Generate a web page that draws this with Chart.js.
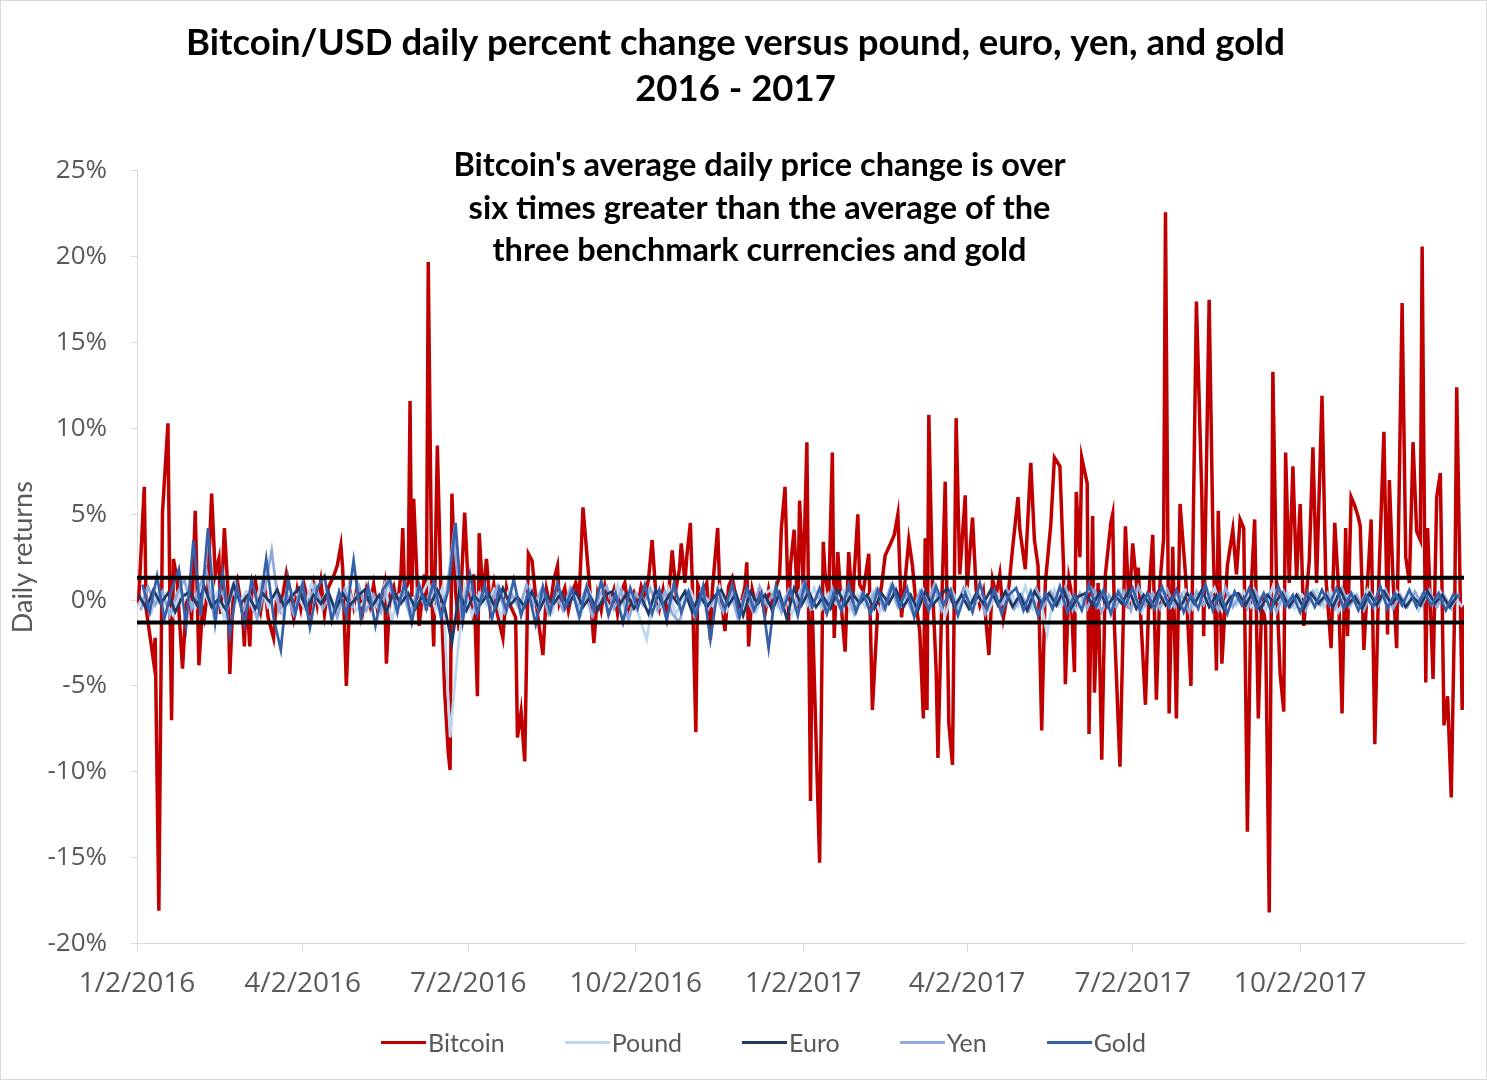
<!DOCTYPE html>
<html>
<head>
<meta charset="utf-8">
<title>Bitcoin vs pound, euro, yen and gold</title>
<script src="https://cdn.jsdelivr.net/npm/chart.js@4.4.1/dist/chart.umd.min.js"></script>
<style>
  html, body { margin: 0; padding: 0; background: #fff; }
  .wrap { position: relative; width: 1487px; height: 1080px; box-sizing: border-box; border: 1px solid #d9d9d9; }
  #myChart { position: absolute; left: 0; top: 0; }
  .chart-legend {
    position: absolute; left: 0; top: 1026px; width: 1485px; padding-left: 40px; box-sizing: border-box;
    display: flex; justify-content: center; gap: 60px;
    font-family: Lato, sans-serif; font-size: 25px; color: #595959;
  }
  .legend-item { display: flex; align-items: center; }
  .legend-color { width: 45px; height: 3px; margin-right: 2px; }
</style>
</head>
<body>
<div class="wrap">
  <canvas id="myChart" width="1485" height="1078"></canvas>
  <div class="chart-legend" id="chart-legend"></div>
</div>
<script>
// x axis: days since 1/2/2016
const tickDays = [0, 91, 182, 274, 366, 456, 547, 639];
const tickLabels = ['1/2/2016', '4/2/2016', '7/2/2016', '10/2/2016', '1/2/2017', '4/2/2017', '7/2/2017', '10/2/2017'];
const lastDay = 729;

// Bitcoin daily returns in %, [day, value]
const bitcoin = [
  [0,-0.3],[1,0.2],[4,6.6],[5,-0.5],[9,-3.5],[10,-2.2],[12,-18.1],[14,5.1],[17,10.3],[18,0.6],[19,-7.0],[20,2.4],
  [22,1.2],[25,-4.0],[27,-0.3],[29,0.6],[30,-1.2],[32,5.2],[34,-3.8],[36,-0.5],[37,-1.0],[39,0.8],[41,6.2],[43,1.5],
  [45,2.4],[46,-0.8],[48,4.2],[50,0.5],[51,-4.3],[53,0.6],[55,1.2],[58,-0.8],[59,-2.7],[60,0.5],[62,-2.7],[63,0.4],
  [65,1.1],[68,-0.6],[70,0.9],[72,-1.0],[75,-2.2],[77,0.5],[79,-0.4],[82,1.5],[84,0.2],[86,-1.0],[88,0.6],[90,-0.5],
  [92,0.8],[95,-0.6],[97,0.9],[99,-0.3],[101,1.1],[103,-0.8],[105,0.7],[108,1.4],[110,2.0],[112,3.2],[113,1.8],[115,-5.0],
  [117,0.5],[119,-0.4],[121,0.8],[124,-0.7],[126,0.6],[128,-0.3],[130,0.9],[132,-0.5],[135,0.4],[136,0.9],[137,-3.7],[139,0.3],
  [141,0.8],[143,-0.4],[145,1.5],[146,4.2],[147,0.5],[149,1.0],[150,11.6],[151,0.2],[152,5.9],[154,0.8],[155,-1.5],[158,1.5],
  [159,-0.6],[160,19.7],[162,0.2],[163,-2.7],[165,9.0],[167,0.4],[169,-5.3],[171,-8.9],[172,-9.9],[173,6.2],[175,0.5],[177,-1.8],
  [180,5.1],[182,0.8],[184,-0.5],[185,1.5],[187,-5.6],[188,3.9],[190,0.2],[192,2.4],[194,-0.4],[196,0.9],[198,-0.8],[201,-2.2],
  [203,0.7],[205,-0.3],[208,-1.0],[209,-8.0],[211,-6.5],[213,-9.4],[215,2.7],[217,2.3],[219,0.2],[220,-0.8],[223,-3.2],[225,0.6],
  [227,-0.4],[229,1.2],[231,2.0],[232,-0.2],[235,0.7],[237,-0.6],[239,0.4],[241,1.0],[243,0.3],[245,5.4],[248,1.6],[251,-2.5],
  [253,0.3],[255,-0.6],[257,0.8],[259,-0.4],[262,0.6],[264,-0.8],[266,0.5],[268,1.0],[270,-0.5],[273,0.4],[275,-0.3],[277,0.8],
  [279,0.2],[281,1.2],[283,3.5],[285,0.4],[287,-0.5],[289,0.6],[291,-0.8],[293,1.5],[294,2.9],[296,0.6],[298,1.8],[299,3.3],
  [301,1.0],[302,2.5],[304,4.5],[305,1.2],[307,-7.7],[308,0.9],[310,0.3],[313,1.0],[315,-2.3],[316,0.5],[319,4.2],[320,1.0],
  [323,-1.8],[325,0.8],[327,1.3],[329,0.2],[331,-0.6],[334,0.8],[335,2.2],[336,-2.7],[338,0.6],[340,-0.3],[342,0.5],[345,-0.8],
  [347,0.6],[349,-0.5],[351,0.7],[353,1.4],[354,4.2],[356,6.6],[358,-1.2],[359,2.0],[361,4.1],[363,-0.5],[364,5.8],[366,0.8],
  [368,9.2],[370,-11.7],[371,-0.6],[375,-15.3],[377,3.4],[378,1.5],[380,0.2],[382,8.6],[383,-2.2],[385,2.8],[387,-0.5],[389,-3.0],
  [391,2.8],[393,-0.3],[396,5.0],[397,0.9],[399,0.5],[402,2.7],[404,-6.4],[407,-0.4],[409,0.8],[411,2.6],[414,3.3],[416,3.8],
  [418,5.0],[420,-1.0],[422,1.2],[424,3.5],[426,2.0],[428,-0.3],[430,-1.8],[432,-6.9],[433,3.6],[434,-6.4],[435,10.8],[437,0.8],
  [439,-4.0],[440,-9.2],[442,-0.6],[444,6.9],[446,-7.2],[448,-9.6],[450,10.6],[452,1.5],[455,6.1],[456,0.7],[459,4.8],[461,0.6],
  [463,-0.3],[465,0.5],[468,-3.2],[470,1.2],[472,0.3],[474,1.5],[476,-1.0],[479,0.8],[481,3.0],[484,6.0],[485,4.1],[488,1.8],
  [491,8.0],[493,3.5],[495,2.0],[497,-7.6],[499,1.0],[502,4.4],[504,8.3],[507,7.8],[509,2.0],[510,-4.9],[512,1.2],[513,0.6],
  [515,-4.2],[516,6.3],[518,2.5],[519,8.3],[522,6.8],[523,-7.8],[525,4.9],[526,-5.4],[528,1.0],[530,-9.3],[532,1.5],[535,4.5],
  [536,5.0],[537,-1.6],[540,-9.7],[543,4.3],[545,-0.5],[547,3.3],[549,1.0],[550,1.9],[554,-6.1],[556,0.5],[558,3.8],[560,-5.8],
  [562,1.0],[564,3.6],[565,22.6],[567,-6.6],[569,3.1],[571,-6.9],[573,5.6],[576,1.5],[579,-5.0],[580,2.5],[582,17.4],[585,6.0],
  [586,-2.1],[589,17.5],[591,4.2],[593,-4.1],[594,5.2],[596,-3.7],[599,2.0],[602,4.1],[604,1.5],[606,4.7],[608,4.2],[610,-13.5],
  [612,0.5],[614,4.7],[616,-6.9],[618,0.2],[620,-1.5],[622,-18.2],[624,13.3],[626,1.0],[628,-4.3],[630,-6.5],[631,8.6],[633,1.0],
  [635,7.8],[637,1.2],[639,5.6],[641,-1.5],[644,2.3],[646,8.9],[648,1.0],[651,11.9],[653,1.5],[656,-2.8],[658,4.5],[660,0.8],
  [662,-6.6],[664,4.2],[665,-2.1],[667,6.0],[669,5.5],[671,4.8],[672,4.3],[674,-2.9],[676,1.0],[678,4.7],[680,-8.4],[682,0.5],
  [685,9.8],[687,-2.0],[688,7.0],[690,1.2],[692,-2.8],[695,17.3],[697,2.5],[699,1.0],[701,9.2],[703,4.0],[705,3.5],[706,20.6],
  [708,-4.8],[709,4.2],[712,-4.6],[714,6.0],[716,7.4],[718,-7.3],[720,-5.6],[722,-11.5],[724,0.5],[725,12.4],[728,-6.4],[729,-0.3]
];

// benchmark returns in %, one value every 4 days (pound from day 0, euro day 1, yen day 2, gold day 3)
const fxStep = 4;
const pound = [
  -0.4,0.3,-0.7,0.5,-0.2,-0.9,0.6,0.1,-0.5,0.8,-0.3,0.4,-1.1,0.7,-0.2,0.5,-0.6,0.9,-0.4,0.2,
  -0.8,0.6,0.3,-0.5,1.0,-0.3,0.4,-0.7,0.2,0.8,-0.6,-0.2,0.5,-0.4,0.9,-1.2,0.3,0.6,-0.5,0.2,
  1.1,-0.6,0.8,-8.0,-3.2,0.7,-0.9,0.4,-0.3,0.6,-1.0,0.5,0.2,-0.6,0.8,-0.4,0.3,-0.7,0.5,-0.2,
  0.4,-0.8,0.6,-0.3,0.2,-0.5,0.9,-0.6,0.3,-1.0,-2.3,0.5,-0.4,0.7,-0.9,0.3,0.6,-0.5,0.2,-0.3,
  0.8,-0.6,0.4,-0.2,0.5,-0.7,0.3,0.6,-0.4,0.2,-0.8,0.5,-0.3,0.7,-0.5,0.4,-0.2,0.6,-0.6,0.3,
  -0.4,0.5,-0.7,0.2,0.8,-0.3,0.4,-0.5,0.6,-0.2,0.3,-0.9,0.5,-0.4,0.7,-0.3,0.2,-0.6,0.4,-0.2,
  0.5,-0.4,0.8,-0.5,0.3,-2.0,0.6,-0.3,0.4,-0.6,0.2,0.7,-0.4,0.3,-0.5,0.6,-0.2,0.4,-0.7,0.3,
  -0.3,0.5,-0.4,0.2,0.6,-0.5,0.3,-0.2,0.7,-0.6,0.4,-0.3,0.5,-0.4,0.2,-0.6,0.8,-0.3,0.4,-0.5,
  0.3,-0.2,0.6,-0.4,0.5,-0.7,0.2,0.4,-0.3,0.6,-0.5,0.3,-0.2,0.5,-0.4,0.3,-0.6,0.4,-0.2,0.5,-0.3,0.2,-0.4
];
const euro = [
  0.3,-0.5,0.6,-0.2,0.4,-0.7,0.2,0.5,-0.3,0.8,-0.4,0.1,-0.6,0.9,-0.2,0.3,-0.5,0.4,-0.1,0.6,
  -0.4,0.2,0.7,-0.5,0.3,-0.2,0.5,-0.6,0.4,-0.3,0.2,0.6,-0.4,0.3,-0.7,0.5,-0.2,0.4,-0.5,0.3,
  -0.3,0.6,-0.4,-2.5,0.5,-0.6,0.3,-0.2,0.4,-0.5,0.7,-0.3,0.2,-0.4,0.5,-0.6,0.3,-0.2,0.4,-0.3,
  0.5,-0.4,0.2,-0.6,0.3,0.5,-0.3,0.4,-0.5,0.2,-0.8,0.6,-0.3,0.4,-0.2,0.5,-0.7,0.3,-0.4,0.2,
  0.6,-0.3,0.4,-0.9,0.5,-0.2,0.3,-0.6,0.4,-1.1,0.7,-0.3,0.5,-0.4,0.2,-0.5,0.6,-0.3,0.4,-0.2,
  0.3,-0.5,0.4,-0.2,0.6,-0.4,0.3,-0.6,0.5,-0.3,0.2,0.7,-0.4,0.3,-0.5,0.4,-0.2,0.6,-0.3,0.5,
  -0.4,0.3,-0.6,0.5,-0.2,0.4,-0.3,0.6,-0.5,0.2,0.4,-0.3,0.5,-0.4,0.3,-0.2,0.6,-0.5,0.3,-0.4,
  0.5,-0.3,0.2,-0.5,0.4,-0.2,0.6,-0.4,0.3,-0.5,0.2,0.4,-0.3,0.5,-0.6,0.3,-0.2,0.4,-0.4,0.3,
  -0.5,0.4,-0.2,0.3,-0.4,0.6,-0.3,0.2,-0.5,0.4,-0.3,0.5,-0.2,0.3,-0.4,0.2,-0.3,0.5,-0.2,0.3,-0.4,0.2
];
const yen = [
  -0.6,0.8,-0.3,0.5,-0.9,0.4,1.2,-0.5,0.7,1.8,-0.8,0.6,-0.4,1.0,-0.7,0.3,-1.1,0.5,2.9,-0.6,
  0.4,-0.8,0.7,-0.3,0.9,-0.5,0.2,-1.0,0.6,-0.4,0.8,-0.6,0.3,-0.7,1.1,-0.4,0.5,-0.9,0.6,-0.3,
  0.7,-0.5,0.4,3.8,-0.8,1.0,-0.6,0.5,-0.4,0.8,-0.7,0.3,-0.5,0.9,-0.3,0.6,-0.8,0.4,-0.6,0.7,
  -0.4,0.5,-0.9,0.3,0.8,-0.5,0.6,-1.2,0.4,-0.3,0.7,-0.6,0.5,-0.8,-1.3,0.4,-0.9,0.6,-0.5,0.3,
  -0.7,0.5,-1.0,0.4,-0.6,0.8,-0.3,0.5,-0.7,0.6,-0.4,0.9,-0.5,0.3,-0.6,0.7,-0.4,0.5,-0.8,0.4,
  -0.3,0.6,-0.5,0.8,-0.4,0.3,-0.7,0.5,-0.3,0.9,-0.6,0.4,-0.5,0.7,-0.3,0.5,-0.8,0.4,-0.4,0.6,
  -0.5,0.3,-0.6,0.7,-0.4,0.5,-0.3,0.8,-0.6,0.4,-0.5,0.6,-0.7,0.3,-0.4,0.5,-0.6,0.8,-0.3,0.4,
  -0.5,0.6,-0.4,0.3,-0.7,0.5,-0.3,0.4,-0.6,0.7,-0.4,0.3,-0.5,0.6,-0.3,0.4,-0.7,0.5,-0.4,0.3,
  -0.6,0.5,-0.3,0.4,-0.5,0.7,-0.4,0.3,-0.6,0.4,-0.3,0.6,-0.5,0.3,-0.4,0.5,-0.3,0.6,-0.4,0.3,-0.5,0.4
];
const gold = [
  0.9,-0.7,1.4,-1.1,0.6,1.8,-1.5,3.5,-0.9,4.2,-1.3,1.6,-2.0,0.8,-1.4,1.2,-0.6,2.4,-1.0,-2.9,
  1.3,-0.8,1.0,-1.6,0.7,1.4,-1.2,0.5,-0.9,2.3,-1.1,0.8,-1.5,0.6,1.2,-0.7,1.0,-1.3,0.9,-0.5,
  1.1,-1.0,0.6,4.5,-1.2,1.5,-0.8,0.9,-1.1,0.7,-0.6,1.2,-0.9,0.5,-1.4,0.8,-0.7,1.0,-0.5,0.6,
  -1.0,0.8,-0.6,1.1,-0.9,0.4,-1.3,0.7,-0.5,0.9,-0.8,0.6,-1.2,1.0,-0.7,0.5,-0.9,0.8,-2.3,0.6,
  -0.5,0.9,-1.0,0.7,-0.6,0.4,-2.8,0.8,-0.5,0.6,-0.9,1.0,-0.4,0.7,-0.8,0.5,-0.6,0.9,-0.7,0.4,
  -0.8,0.6,-0.5,0.9,-0.4,0.7,-1.0,0.5,-0.6,0.8,-0.3,0.6,-0.9,0.4,-0.7,1.0,-0.5,0.6,-0.8,0.3,
  0.7,-0.6,0.5,-0.9,0.4,-0.5,0.8,-0.7,0.3,-0.6,0.9,-0.4,0.6,-0.8,0.5,-0.3,0.7,-0.6,0.4,-0.5,
  0.8,-0.4,0.6,-0.7,0.3,-0.5,0.9,-0.6,0.4,-0.8,0.5,-0.3,0.7,-0.5,0.4,-0.6,0.8,-0.4,0.3,-0.7,
  0.5,-0.4,0.6,-0.3,0.7,-0.5,0.4,-0.6,0.3,-0.4,0.8,-0.5,0.4,-0.3,0.6,-0.4,0.5,-0.3,0.4,-0.6,0.3,0.2
];

// +/- band drawn as black lines
const bandLevel = 1.3;

const noteLines = [
  "Bitcoin's average daily price change is over",
  'six times greater than the average of the',
  'three benchmark currencies and gold'
];

function fxPoints(values, firstDay) {
  return values.map((v, i) => ({ x: firstDay + i * fxStep, y: v }));
}

// text box inside the plot
const notePlugin = {
  id: 'note',
  afterDraw(chart) {
    const { ctx, scales } = chart;
    ctx.save();
    ctx.font = 'bold 32.5px Lato';
    ctx.fillStyle = '#000';
    ctx.textAlign = 'center';
    ctx.textBaseline = 'middle';
    const cx = scales.x.getPixelForValue(342);
    const top = scales.y.getPixelForValue(25) - 5;
    noteLines.forEach((t, i) => ctx.fillText(t, cx, top + i * 42.5));
    ctx.restore();
  }
};

const series = [
  { label: 'Bitcoin', data: bitcoin.map(p => ({ x: p[0], y: p[1] })), color: '#C00000', width: 3.5, order: 10 },
  { label: 'Pound', data: fxPoints(pound, 0), color: '#BDD7EE', width: 2.75, order: 9 },
  { label: 'Euro', data: fxPoints(euro, 1), color: '#203864', width: 2.75, order: 7 },
  { label: 'Yen', data: fxPoints(yen, 2), color: '#8FAADC', width: 2.75, order: 8 },
  { label: 'Gold', data: fxPoints(gold, 3), color: '#3561AB', width: 2.75, order: 6 }
];

const datasets = series.map(s => ({
  label: s.label,
  data: s.data,
  borderColor: s.color,
  backgroundColor: s.color,
  borderWidth: s.width,
  pointRadius: 0,
  tension: 0,
  order: s.order
}));
[bandLevel, -bandLevel].forEach(v => {
  datasets.push({
    label: 'band',
    data: [{ x: 0, y: v }, { x: lastDay, y: v }],
    borderColor: '#000',
    borderWidth: 4,
    pointRadius: 0,
    order: 1
  });
});

const ctx = document.getElementById('myChart').getContext('2d');
const myChart = new Chart(ctx, {
  type: 'line',
  data: { datasets: datasets },
  plugins: [notePlugin],
  options: {
    responsive: false,
    animation: false,
    layout: { padding: { left: 6, right: 22, top: 0, bottom: 62 } },
    scales: {
      x: {
        type: 'linear',
        min: 0,
        max: lastDay,
        afterBuildTicks: axis => { axis.ticks = tickDays.map(v => ({ value: v })); },
        ticks: {
          autoSkip: false,
          maxRotation: 0,
          padding: 16,
          color: '#595959',
          font: { family: "'Open Sans', sans-serif", size: 28 },
          callback: v => tickLabels[tickDays.indexOf(v)]
        },
        grid: { drawOnChartArea: false, tickLength: 8, color: '#d9d9d9' },
        border: { color: '#d9d9d9' }
      },
      y: {
        min: -20,
        max: 25,
        afterFit: axis => { axis.width = 130; },
        ticks: {
          stepSize: 5,
          padding: 24,
          color: '#595959',
          font: { family: "'Open Sans', sans-serif", size: 26 },
          callback: v => v + '%'
        },
        grid: { drawOnChartArea: false, tickLength: 6, color: '#d9d9d9' },
        border: { color: '#d9d9d9' },
        title: {
          display: true,
          text: 'Daily returns',
          color: '#595959',
          font: { family: 'Lato', size: 27 },
          padding: { top: 0, bottom: 4 }
        }
      }
    },
    plugins: {
      legend: { display: false },
      tooltip: { enabled: false },
      title: {
        display: true,
        text: ['Bitcoin/USD daily percent change versus pound, euro, yen, and gold', '2016 - 2017'],
        color: '#000',
        font: { family: 'Lato', size: 36.5, weight: 'bold', lineHeight: 1.26 },
        padding: { top: 19, bottom: 59 }
      }
    }
  }
});

// Custom legend
const chartLegend = document.getElementById('chart-legend');
series.forEach(s => {
  const legendItem = document.createElement('div');
  legendItem.classList.add('legend-item');

  const legendColor = document.createElement('span');
  legendColor.classList.add('legend-color');
  legendColor.style.backgroundColor = s.color;

  const legendLabel = document.createElement('span');
  legendLabel.textContent = s.label;

  legendItem.appendChild(legendColor);
  legendItem.appendChild(legendLabel);
  chartLegend.appendChild(legendItem);
});
</script>
</body>
</html>
